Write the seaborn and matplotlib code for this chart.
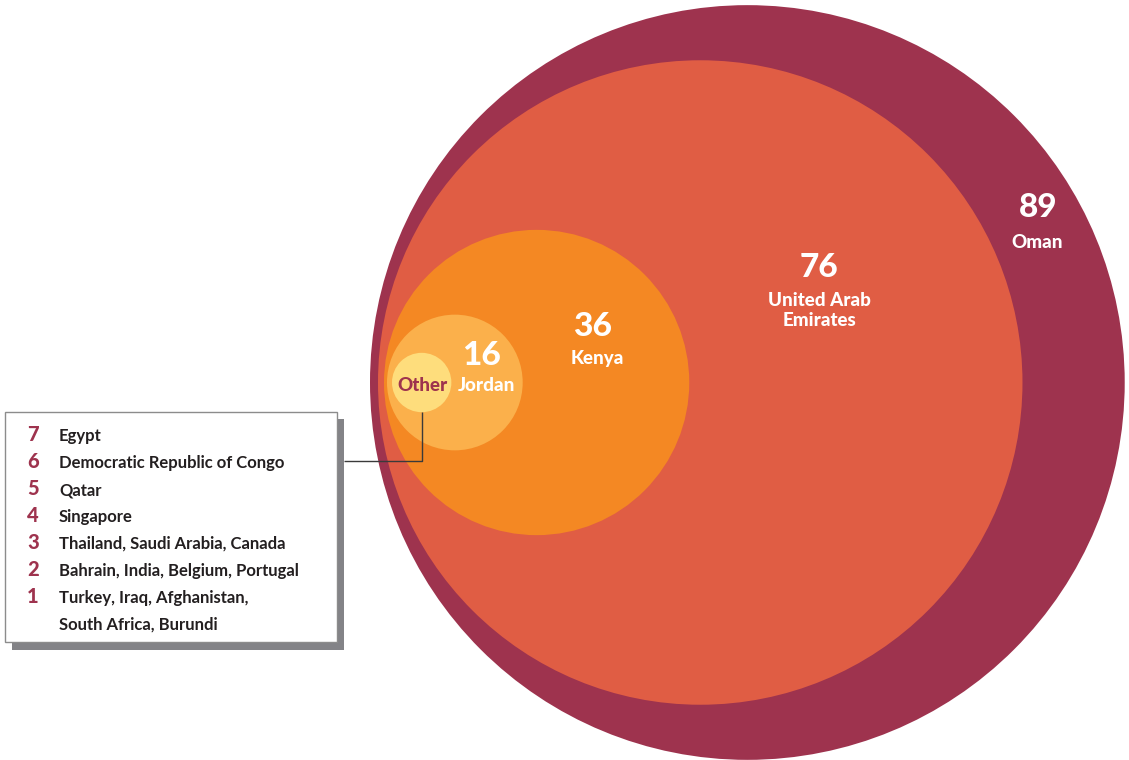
import matplotlib
matplotlib.use("Agg")
import matplotlib.pyplot as plt
from matplotlib.patches import Circle, Rectangle
import seaborn as sns

# data
countries = ["Oman", "United Arab\nEmirates", "Kenya", "Jordan", "Other"]
values = [89, 76, 36, 16, 7]
other_counts = [7, 6, 5, 4, 3, 2, 1]
other_countries = [
    "Egypt",
    "Democratic Republic of Congo",
    "Qatar",
    "Singapore",
    "Thailand, Saudi Arabia, Canada",
    "Bahrain, India, Belgium, Portugal",
    "Turkey, Iraq, Afghanistan,\nSouth Africa, Burundi",
]

# layout (pixel space)
W, H = 1129, 760
PX_PER_UNIT = 4.24
CY = 382.5
left_edges = [370, 378, 384, 387, 392]
# (number x, number baseline, name x, name baseline) for each circle label
label_pos = [
    (1038, 217, 1037, 248),
    (819, 277, 819, 306),
    (593, 336, 597, 364),
    (482, 365, 486, 391),
    (None, None, 422, 391),
]

sns.set_theme(style="white")
plt.rcParams["font.family"] = ["Lato", "DejaVu Sans"]
palette = sns.color_palette(["#9e334e", "#e05d44", "#f48823", "#fbb04b", "#fedd7c"])
crimson = "#9e334e"
dark = "#231f20"

fig = plt.figure(figsize=(W / 100, H / 100), dpi=100)
ax = fig.add_axes([0, 0, 1, 1])
ax.set_xlim(0, W)
ax.set_ylim(H, 0)
ax.axis("off")

centers = []
for i, v in enumerate(values):
    r = v * PX_PER_UNIT
    cx = left_edges[i] + r
    centers.append((cx, r))
    ax.add_patch(Circle((cx, CY), r, facecolor=palette[i], edgecolor="none", zorder=1 + i))

for i, (name, v) in enumerate(zip(countries, values)):
    xn, yn, xl, yl = label_pos[i]
    if name == "Other":
        ax.text(xl, yl, name, color=crimson, fontsize=13.5, fontweight="black",
                ha="center", va="baseline", zorder=10)
        continue
    ax.text(xn, yn, str(v), color="white", fontsize=24, fontweight="black",
            ha="center", va="baseline", zorder=10)
    for j, line in enumerate(name.split("\n")):
        ax.text(xl, yl + j * 20, line, color="white", fontsize=13.5, fontweight="black",
                ha="center", va="baseline", zorder=10)

# legend box for "Other"
bx, by, bw, bh = 5, 412, 332, 230
ax.add_patch(Rectangle((bx + 7, by + 7), bw, bh + 1, facecolor="#838387", edgecolor="none", zorder=11))
ax.add_patch(Rectangle((bx, by), bw, bh, facecolor="white", edgecolor="#8c8c8c", lw=1, zorder=12))

row = 0
for n, txt in zip(other_counts, other_countries):
    yb = 441 + row * 27
    ax.text(33, yb, str(n), color=crimson, fontsize=14.5, fontweight="black",
            ha="center", va="baseline", zorder=13)
    for line in txt.split("\n"):
        yb = 441 + row * 27
        ax.text(59, yb, line, color=dark, fontsize=12, fontweight="bold",
                ha="left", va="baseline", zorder=13)
        row += 1

# connector from "Other" circle to legend
ocx, orad = centers[-1]
ax.plot([ocx, ocx, bx + bw + 7], [CY + orad, 461, 461], color="#3a3a3a", lw=1, zorder=9,
        solid_capstyle="butt")

fig.savefig("out.png", dpi=100)
